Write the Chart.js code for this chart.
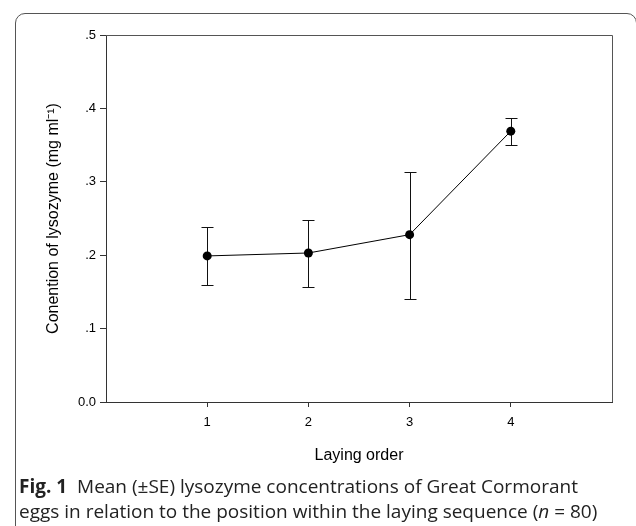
<!DOCTYPE html>
<html>
<head>
<meta charset="utf-8">
<script src="https://cdn.jsdelivr.net/npm/chart.js@4"></script>
<style>
  html, body { margin: 0; padding: 0; background: #fff; }
  #wrap { position: relative; width: 636px; height: 526px; overflow: hidden; }
  #frame { position: absolute; left: 15px; top: 13px; width: 622px; height: 560px;
           border: 1px solid #555; border-radius: 10px; box-sizing: border-box; }
  #chart { position: absolute; left: 0; top: 0; }
  .cap { position: absolute; left: 19px; font-family: "Open Sans", sans-serif; font-size: 19px;
         line-height: 24px; color: #222; white-space: nowrap; }
  .cap b { font-weight: 700; }
</style>
</head>
<body>
<div id="wrap">
  <div id="frame"></div>
  <canvas id="chart" width="636" height="526"></canvas>
  <div class="cap" style="top:474px"><b>Fig. 1</b>&nbsp; Mean (±SE) lysozyme concentrations of Great Cormorant</div>
  <div class="cap" style="top:499px">eggs in relation to the position within the laying sequence (<i>n</i> = 80)</div>
</div>
<script>
// --- datos ---
const layingOrder = [1, 2, 3, 4];
const meanLysozyme = [0.199, 0.203, 0.228, 0.369];
const seUpper = [0.238, 0.248, 0.313, 0.387];
const seLower = [0.159, 0.156, 0.141, 0.350];
const yTicks = ["0.0", ".1", ".2", ".3", ".4", ".5"];

const puntos = layingOrder.map((x, i) => ({ x: x, y: meanLysozyme[i] }));

// barras de error (±SE)
const errorBars = {
  id: "errorBars",
  beforeDatasetsDraw(chart) {
    const ctx = chart.ctx;
    const xs = chart.scales.x, ys = chart.scales.y;
    ctx.save();
    ctx.strokeStyle = "#111";
    ctx.lineWidth = 1;
    layingOrder.forEach((x, i) => {
      const px = Math.round(xs.getPixelForValue(x)) + 0.5;
      const top = Math.round(ys.getPixelForValue(seUpper[i])) + 0.5;
      const bot = Math.round(ys.getPixelForValue(seLower[i])) + 0.5;
      ctx.beginPath();
      ctx.moveTo(px, top); ctx.lineTo(px, bot);
      ctx.moveTo(px - 6, top); ctx.lineTo(px + 6, top);
      ctx.moveTo(px - 6, bot); ctx.lineTo(px + 6, bot);
      ctx.stroke();
    });
    ctx.restore();
  }
};

// marco superior y derecho
const marco = {
  id: "marco",
  afterDraw(chart) {
    const a = chart.chartArea, ctx = chart.ctx;
    ctx.save();
    ctx.strokeStyle = "#555";
    ctx.lineWidth = 1;
    ctx.beginPath();
    ctx.moveTo(a.left, Math.round(a.top) + 0.5);
    ctx.lineTo(Math.round(a.right) + 0.5, Math.round(a.top) + 0.5);
    ctx.lineTo(Math.round(a.right) + 0.5, a.bottom);
    ctx.stroke();
    ctx.restore();
  }
};

new Chart(document.getElementById("chart"), {
  type: "line",
  data: {
    datasets: [{
      data: puntos,
      borderColor: "#000",
      borderWidth: 1,
      backgroundColor: "#000",
      pointRadius: 4.5,
      pointBackgroundColor: "#000",
      pointBorderWidth: 0,
      tension: 0
    }]
  },
  options: {
    responsive: false,
    animation: false,
    layout: { padding: { left: 40, top: 35, right: 24, bottom: 57 } },
    plugins: { legend: { display: false }, tooltip: { enabled: false } },
    scales: {
      x: {
        type: "linear", min: 0, max: 5,
        afterFit: s => { s.height = 67; },
        border: { color: "#333", width: 1 },
        grid: {
          drawOnChartArea: false, tickLength: 5,
          tickColor: c => (c.tick && c.tick.value >= 1 && c.tick.value <= 4) ? "#333" : "rgba(0,0,0,0)"
        },
        ticks: {
          stepSize: 1, padding: 8, color: "#000", maxRotation: 0,
          font: { family: "Liberation Sans", size: 13 },
          callback: v => (v >= 1 && v <= 4) ? String(layingOrder[v - 1]) : ""
        },
        title: { display: true, text: "Laying order", color: "#000",
                 font: { family: "Liberation Sans", size: 16 }, padding: { top: 4, bottom: 4 } }
      },
      y: {
        min: 0, max: 0.5,
        afterFit: s => { s.width = 66; },
        border: { color: "#333", width: 1 },
        grid: { drawOnChartArea: false, tickLength: 6, tickColor: "#333" },
        ticks: {
          stepSize: 0.1, padding: 4, color: "#000",
          font: { family: "Liberation Sans", size: 13 },
          callback: (v, i) => yTicks[i]
        },
        title: { display: true, text: "Conention of lysozyme (mg ml⁻¹)", color: "#000",
                 font: { family: "Liberation Sans", size: 16 }, padding: { top: 4, bottom: 4 } }
      }
    }
  },
  plugins: [errorBars, marco]
});
</script>
</body>
</html>
